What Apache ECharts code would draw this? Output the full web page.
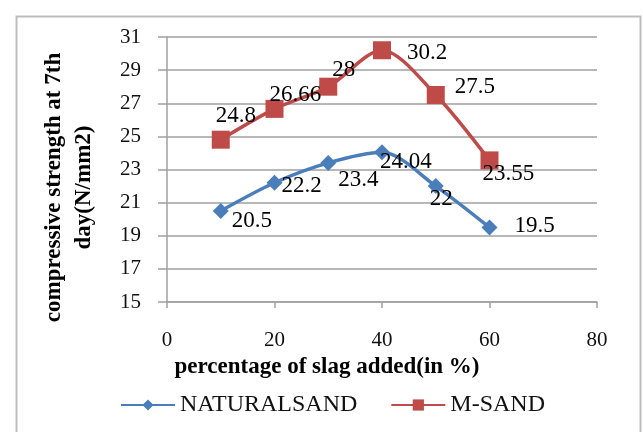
<!DOCTYPE html>
<html>
<head>
<meta charset="utf-8">
<script src="https://cdn.jsdelivr.net/npm/echarts@6/dist/echarts.min.js"></script>
<style>
html,body{margin:0;padding:0;background:#fff;}
#c{width:643px;height:432px;}
</style>
</head>
<body>
<div id="c"></div>
<script>
// ---- data ----
var xValues = [10, 20, 30, 40, 50, 60];
var naturalSand = [20.5, 22.2, 23.4, 24.04, 22, 19.5];
var mSand = [24.8, 26.66, 28, 30.2, 27.5, 23.55];
var seriesNames = ['NATURALSAND', 'M-SAND'];
var xTicks = [0, 20, 40, 60, 80];
var yTicks = [15, 17, 19, 21, 23, 25, 27, 29, 31];
var xTitle = 'percentage of slag added(in %)';
var yTitle = 'compressive strength at 7th\nday(N/mm2)';

// ---- label styling (offsets: left edge dx, centre dy from point) ----
var natLabelOff = [[11,10],[7,3],[10,17],[-2,10],[-6,13],[25,-2]];
var msLabelOff = [[-5,-24],[-5,-14],[4,-17],[25,3],[19,-8],[-7,14]];

var SERIF = '"Liberation Serif","Times New Roman",serif';

function build(vals, offs, size) {
  return vals.map(function (v, i) {
    return {
      value: [xValues[i], v],
      label: {
        position: [size / 2 + offs[i][0], size / 2 + offs[i][1]],
        align: 'left',
        verticalAlign: 'middle'
      }
    };
  });
}

var chart = echarts.init(document.getElementById('c'), null, {renderer: 'canvas'});
chart.setOption({
  animation: false,
  backgroundColor: '#fff',
  graphic: [{
    type: 'rect',
    left: 14, top: 14,
    shape: {width: 624, height: 430},
    style: {fill: 'none', stroke: '#bdbdbd', lineWidth: 2},
    silent: true, z: -1
  }],
  grid: {left: 167, right: 46, top: 37, bottom: 130},
  legend: {
    left: 115, top: 388,
    itemWidth: 54, itemHeight: 14, itemGap: 33,
    textStyle: {fontFamily: SERIF, fontSize: 24, color: '#111'},
    data: seriesNames
  },
  xAxis: {
    type: 'value', min: xTicks[0], max: xTicks[xTicks.length - 1], interval: 20,
    name: xTitle, nameLocation: 'middle', nameGap: 38,
    nameTextStyle: {fontFamily: SERIF, fontSize: 23, fontWeight: 'bold', color: '#000', padding: [0, 110, 0, 0]},
    axisLine: {show: true, lineStyle: {color: '#a0a0a0', width: 1.5}},
    axisTick: {show: true, inside: false, length: 6, lineStyle: {color: '#a0a0a0', width: 1.5}},
    axisLabel: {fontFamily: SERIF, fontSize: 21, color: '#111', margin: 28},
    splitLine: {show: false}
  },
  yAxis: {
    type: 'value', min: yTicks[0], max: yTicks[yTicks.length - 1], interval: 2,
    name: yTitle, nameLocation: 'middle', nameGap: 68, nameRotate: 90,
    nameTextStyle: {fontFamily: SERIF, fontSize: 23, fontWeight: 'bold', color: '#000', lineHeight: 30, padding: [0, 36, 0, 0]},
    axisLine: {show: true, lineStyle: {color: '#a0a0a0', width: 1.5}},
    axisTick: {show: true, length: 9, lineStyle: {color: '#a0a0a0', width: 1.5}},
    axisLabel: {fontFamily: SERIF, fontSize: 21, color: '#111', margin: 26},
    splitLine: {show: true, lineStyle: {color: '#a0a0a0', width: 1.5}}
  },
  series: [{
    name: seriesNames[0], type: 'line', smooth: 0.3,
    symbol: 'diamond', symbolSize: 16,
    lineStyle: {color: '#4a7ebb', width: 3.5},
    itemStyle: {color: '#4a7ebb'},
    label: {show: true, fontFamily: SERIF, fontSize: 23, color: '#000',
      formatter: function (p) { return p.value[1]; }},
    data: build(naturalSand, natLabelOff, 16)
  }, {
    name: seriesNames[1], type: 'line', smooth: 0.3,
    symbol: 'rect', symbolSize: 18,
    lineStyle: {color: '#be4b48', width: 3.5},
    itemStyle: {color: '#be4b48'},
    label: {show: true, fontFamily: SERIF, fontSize: 23, color: '#000',
      formatter: function (p) { return p.value[1]; }},
    data: build(mSand, msLabelOff, 18)
  }]
});
</script>
</body>
</html>
